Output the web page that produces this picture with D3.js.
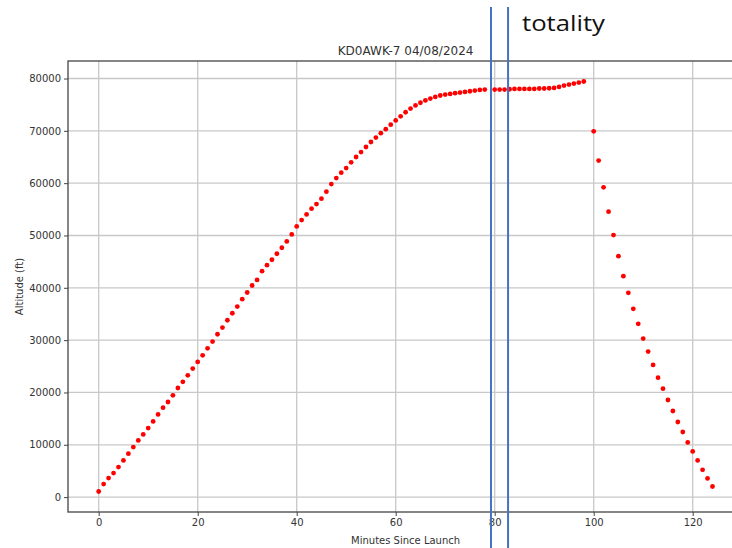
<!DOCTYPE html>
<html><head><meta charset="utf-8">
<script src="https://cdn.jsdelivr.net/npm/d3@7/dist/d3.min.js"></script>
<style>
html,body{margin:0;padding:0;background:#fff;overflow:hidden;}
svg{display:block;font-family:"DejaVu Sans",sans-serif;}
</style></head>
<body>
<svg id="chart" width="732" height="548"></svg>
<script>
const title = "KD0AWK-7 04/08/2024";
const xLabel = "Minutes Since Launch";
const yLabel = "Altitude (ft)";
const annotationText = "totality";
const xTicks = [0, 20, 40, 60, 80, 100, 120];
const yTicks = [0, 10000, 20000, 30000, 40000, 50000, 60000, 70000, 80000];
const totalityMinutes = [79.25, 82.7];

const minutes = [
  0,1,2,3,4,5,6,7,8,9,10,11,12,13,14,15,16,17,18,19,20,21,22,23,24,25,26,27,28,29,
  30,31,32,33,34,35,36,37,38,39,40,41,42,43,44,45,46,47,48,49,50,51,52,53,54,55,56,57,58,59,
  60,61,62,63,64,65,66,67,68,69,70,71,72,73,74,75,76,77,78,
  80,81,82,83,84,85,86,87,88,89,90,91,92,93,94,95,96,97,98,
  100,101,102,103,104,105,106,107,108,109,110,111,112,113,114,115,116,117,118,119,120,121,122,123,124
];
const altitude = [
  1070,2490,3630,4590,5740,7000,8290,9570,10830,11980,13200,14470,15800,17090,18180,19450,20850,22030,23270,24560,
  25840,27100,28440,29720,31120,32400,33800,35140,36420,37820,
  39100,40440,41500,43180,44330,45360,46510,47660,48860,50200,51730,52940,54030,55120,56000,57030,58370,59830,60980,62010,
  62890,63980,65000,65950,66910,67870,68710,69560,70320,71180,
  71990,72780,73550,74260,74860,75370,75820,76170,76480,76750,76940,77050,77190,77320,77430,77570,77700,77820,77890,
  77890,77890,77890,77950,78010,78010,78010,78010,78010,78090,78090,78140,78200,78390,78660,78850,79040,79230,79430,
  69910,64310,59200,54550,50070,46050,42220,39040,35980,33110,30300,27810,25260,22830,20730,18560,16460,14350,12440,10450,
  8730,7000,5220,3560,2030
];

const svg = d3.select("#chart");
const pLeft = 68, pTop = 61, pBottom = 512, pxPerMin = 4.95;

const xExt = d3.extent(minutes), xPad = (xExt[1]-xExt[0])*0.05;
const xDom = [xExt[0]-xPad, xExt[1]+xPad];
const pRight = pLeft + (xDom[1]-xDom[0])*pxPerMin;
const x = d3.scaleLinear().domain(xDom).range([pLeft, pRight]);

const yExt = d3.extent(altitude), yPad = (yExt[1]-yExt[0])*0.05;
const y = d3.scaleLinear().domain([yExt[0]-yPad, yExt[1]+yPad]).range([pBottom, pTop]);

// grid
const grid = svg.append("g");
grid.selectAll("line.gx").data(xTicks).join("line").attr("class","gx")
  .attr("x1", d=>x(d)).attr("x2", d=>x(d)).attr("y1", pTop).attr("y2", pBottom)
  .attr("stroke", "#c8c8c8").attr("stroke-width", 1.3);
grid.selectAll("line.gy").data(yTicks).join("line").attr("class","gy")
  .attr("x1", pLeft).attr("x2", pRight).attr("y1", d=>y(d)).attr("y2", d=>y(d))
  .attr("stroke", "#c8c8c8").attr("stroke-width", 1.3);

// axes
const xAxis = d3.axisBottom(x).tickValues(xTicks).tickSize(4).tickPadding(3).tickFormat(d3.format("d"));
const yAxis = d3.axisLeft(y).tickValues(yTicks).tickSize(4).tickPadding(3).tickFormat(d3.format("d"));
const gx = svg.append("g").attr("transform", `translate(0,${pBottom})`).call(xAxis);
const gy = svg.append("g").attr("transform", `translate(${pLeft},0)`).call(yAxis);
[gx, gy].forEach(g => {
  g.select(".domain").remove();
  g.selectAll(".tick line").attr("stroke", "#444").attr("stroke-width", 1);
  g.selectAll(".tick text").attr("fill", "#333").style("font-size", "10px").style("font-family", "DejaVu Sans");
});

// frame
svg.append("rect").attr("x", pLeft).attr("y", pTop).attr("width", pRight-pLeft).attr("height", pBottom-pTop)
  .attr("fill", "none").attr("stroke", "#444").attr("stroke-width", 1.3);

// points
svg.append("g").selectAll("circle").data(minutes.map((m,i)=>[m, altitude[i]])).join("circle")
  .attr("cx", d=>x(d[0])).attr("cy", d=>y(d[1])).attr("r", 2.4).attr("fill", "#ff0000");

// labels
svg.append("text").attr("x", (pLeft+pRight)/2).attr("y", 55).attr("text-anchor", "middle")
  .attr("fill", "#333").style("font-size", "12px").text(title);
svg.append("text").attr("x", (pLeft+pRight)/2).attr("y", 544).attr("text-anchor", "middle")
  .attr("fill", "#333").style("font-size", "10px").text(xLabel);
svg.append("text").attr("transform", `translate(23,${(pTop+pBottom)/2}) rotate(-90)`).attr("text-anchor", "middle")
  .attr("fill", "#333").style("font-size", "10px").text(yLabel);

// totality annotation
svg.append("g").selectAll("line").data(totalityMinutes).join("line")
  .attr("x1", d=>x(d)).attr("x2", d=>x(d)).attr("y1", 7).attr("y2", 548)
  .attr("stroke", "#4472C4").attr("stroke-width", 2);
svg.append("text").attr("x", 522).attr("y", 31).attr("fill", "#111")
  .style("font-family", "'Open Sans', sans-serif").style("font-size", "22px")
  .attr("textLength", 83).attr("lengthAdjust", "spacingAndGlyphs").text(annotationText);
</script>
</body></html>
